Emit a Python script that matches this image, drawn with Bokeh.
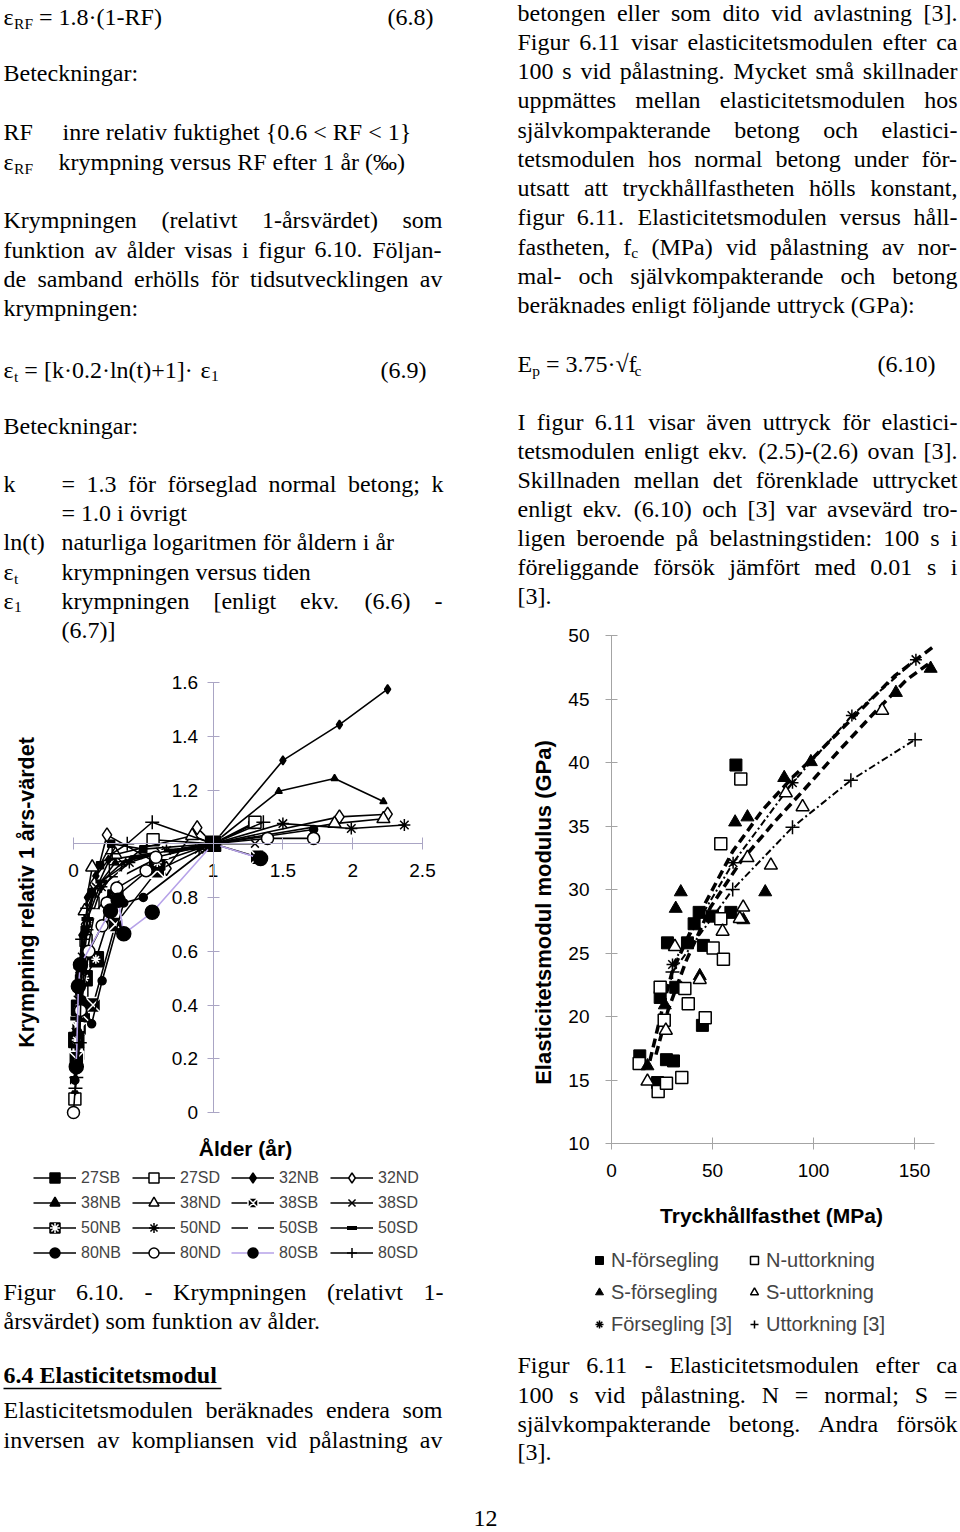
import math
from bokeh.plotting import figure
from bokeh.models import (Range1d, LinearAxis, FixedTicker, NumeralTickFormatter,
                          Legend, LegendItem)
from bokeh.core.properties import value
from bokeh.embed import file_html
from bokeh.resources import INLINE

# ============ Figur 6.10: krympning relativt 1-årsvärdet vs ålder (år) ============
age_27SB = [0.005, 0.02, 0.04, 0.08, 0.13, 0.19, 0.27, 0.50, 1.00, 1.28]
rel_27SB = [0.12, 0.30, 0.50, 0.68, 0.82, 0.92, 1.00, 0.98, 1.00, 1.07]
age_27SD = [0.01, 0.03, 0.06, 0.09, 0.14, 0.30, 0.57, 1.00, 1.30]
rel_27SD = [0.05, 0.22, 0.45, 0.64, 0.78, 0.90, 1.015, 1.00, 1.08]
age_32NB = [0.01, 0.03, 0.06, 0.10, 0.16, 0.25, 1.00, 1.50, 1.905, 2.25]
rel_32NB = [0.20, 0.45, 0.66, 0.80, 0.88, 0.94, 1.00, 1.31, 1.443, 1.575]
age_32ND = [0.02, 0.05, 0.09, 0.15, 0.24, 0.666, 0.886, 1.00, 1.905, 2.25]
rel_32ND = [0.28, 0.52, 0.70, 0.85, 1.033, 0.908, 1.06, 1.00, 1.10, 1.11]
age_38NB = [0.01, 0.025, 0.05, 0.09, 0.14, 0.30, 1.00, 1.47, 1.87, 2.22]
rel_38NB = [0.08, 0.25, 0.48, 0.68, 0.82, 0.93, 1.00, 1.195, 1.243, 1.157]
age_38ND = [0.02, 0.05, 0.08, 0.134, 0.30, 0.85, 1.00, 1.87, 2.22]
rel_38ND = [0.30, 0.55, 0.75, 0.913, 0.96, 1.03, 1.00, 1.075, 1.093]
age_38SB = [0.02, 0.04, 0.07, 0.14, 0.30, 0.60, 1.00, 1.32]
rel_38SB = [0.20, 0.31, 0.36, 0.40, 0.70, 0.90, 1.00, 0.95]
age_38SD = [0.015, 0.03, 0.06, 0.10, 0.16, 0.35, 0.62, 1.00, 1.30]
rel_38SD = [0.30, 0.42, 0.58, 0.72, 0.84, 0.93, 0.97, 1.00, 1.00]
age_50NB = [0.02, 0.04, 0.08, 0.16, 0.30, 0.60, 1.00]
rel_50NB = [0.27, 0.39, 0.50, 0.57, 0.80, 0.93, 1.00]
age_50ND = [0.03, 0.06, 0.10, 0.20, 0.40, 0.666, 0.90, 1.00, 1.50, 1.99, 2.37]
rel_50ND = [0.30, 0.52, 0.68, 0.84, 0.93, 0.975, 0.98, 1.00, 1.075, 1.057, 1.07]
age_50SB = [0.015, 0.04, 0.08, 0.15, 0.35, 0.65, 1.00]
rel_50SB = [0.10, 0.32, 0.55, 0.74, 0.88, 0.96, 1.00]
age_50SD = [0.02, 0.05, 0.10, 0.20, 0.45, 0.69, 1.00]
rel_50SD = [0.35, 0.55, 0.72, 0.86, 0.95, 0.975, 1.00]
age_80NB = [0.01, 0.03, 0.06, 0.13, 0.205, 0.36, 0.50, 1.00, 1.72]
rel_80NB = [0.12, 0.30, 0.42, 0.33, 0.49, 0.78, 0.80, 1.00, 1.053]
age_80ND = [0.00, 0.05, 0.11, 0.205, 0.24, 0.31, 0.52, 0.59, 1.00, 1.39, 1.72]
rel_80ND = [0.00, 0.38, 0.60, 0.695, 0.78, 0.835, 0.90, 0.95, 1.00, 1.02, 1.02]
age_80SB = [0.02, 0.035, 0.05, 0.265, 0.32, 0.36, 0.564, 1.00, 1.34]
rel_80SB = [0.17, 0.47, 0.55, 0.75, 0.79, 0.665, 0.745, 1.00, 0.945]
age_80SD = [0.014, 0.02, 0.045, 0.062, 0.098, 0.277, 0.385, 0.564, 1.00, 1.36]
rel_80SD = [0.09, 0.13, 0.26, 0.645, 0.76, 0.963, 1.00, 1.08, 1.00, 1.08]

series_610 = ["27SB", "27SD", "32NB", "32ND", "38NB", "38ND", "38SB", "38SD",
              "50NB", "50ND", "50SB", "50SD", "80NB", "80ND", "80SB", "80SD"]
x_ticks_610 = [0, 1, 1.5, 2, 2.5]
y_ticks_610 = [0, 0.2, 0.4, 0.6, 0.8, 1.2, 1.4, 1.6]

# ============ Figur 6.11: elasticitetsmodul (GPa) vs tryckhållfasthet (MPa) ============
fc_N_seal = [14.0, 22.8, 24.1, 27.7, 27.2, 30.7, 31.8, 37.6, 40.9, 43.4, 45.0, 45.5, 50.0, 59.1, 61.6]
E_N_seal = [16.9, 14.8, 21.5, 25.8, 16.6, 16.5, 22.3, 25.8, 27.3, 28.2, 19.3, 25.6, 27.9, 28.2, 39.8]
fc_N_dry = [13.7, 23.1, 27.2, 34.8, 24.1, 26.1, 36.3, 38.0, 46.4, 50.3, 55.4, 54.1, 54.1, 64.0]
E_N_dry = [16.3, 14.1, 14.75, 15.2, 22.3, 19.7, 22.2, 21.0, 19.9, 25.4, 24.5, 27.7, 33.6, 38.7]
fc_S_seal = [17.8, 26.4, 31.8, 34.3, 43.7, 65.3, 76.1, 61.2, 67.3, 85.5, 98.7, 140.8, 158.0]
E_S_seal = [16.1, 20.9, 28.5, 29.8, 23.2, 27.6, 29.8, 35.3, 35.7, 38.8, 40.05, 45.5, 47.4]
fc_S_dry = [17.8, 26.9, 31.4, 43.7, 55.0, 63.5, 65.2, 67.3, 78.9, 86.3, 94.6, 134.0]
E_S_dry = [14.9, 18.9, 25.5, 22.9, 26.7, 27.7, 28.6, 32.5, 31.9, 37.6, 36.5, 44.1]
fc_ref_seal = [30.2, 60.2, 89.6, 119.0, 150.7]
E_ref_seal = [24.1, 32.1, 38.4, 43.7, 48.1]
fc_ref_dry = [30.2, 60.0, 89.6, 118.5, 150.3]
E_ref_dry = [23.5, 30.0, 34.9, 38.6, 41.8]
fc_fit_a = [19, 25, 30, 40, 50, 60, 75, 90, 100, 120, 140, 160]
E_fit_a = [16.5, 20.5, 23.5, 27.0, 30.0, 33.0, 36.3, 38.9, 40.4, 43.6, 46.8, 49.2]
fc_fit_b = [22, 28, 37, 49, 64, 80, 95, 113, 130, 146, 158]
E_fit_b = [17.0, 20.5, 24.4, 28.6, 32.2, 35.2, 37.8, 41.0, 43.9, 46.5, 47.9]
labels_611 = ["N-försegling", "N-uttorkning", "S-försegling", "S-uttorkning",
              "Försegling [3]", "Uttorkning [3]"]
x_ticks_611 = [0, 50, 100, 150]
y_ticks_611 = [10, 15, 20, 25, 30, 35, 40, 45, 50]

# ============ page geometry (1 unit = 1 page pixel) ============
W, H = 960, 1532
PW, PH = float(W), float(H)

p = figure(width=W, height=H, x_range=Range1d(0, PW), y_range=Range1d(PH, 0),
           output_backend="svg", toolbar_location=None, x_axis_type=None, y_axis_type=None,
           min_border=0, min_border_left=0, min_border_right=0, min_border_top=0,
           min_border_bottom=0, outline_line_color=None,
           background_fill_color="white", border_fill_color="white")

# chart placement on the page
L_X0, L_XS = 73.0, 139.6
L_Y0, L_YS = 1112.0, 268.75
R_X0, R_XS = 611.0, 2.02
R_Y10, R_YS = 1143.0, 12.7
p.extra_x_ranges = {"lx": Range1d(-L_X0 / L_XS, (PW - L_X0) / L_XS),
                    "rx": Range1d(-R_X0 / R_XS, (PW - R_X0) / R_XS)}
p.extra_y_ranges = {"ly": Range1d((L_Y0 - PH) / L_YS, L_Y0 / L_YS),
                    "ry": Range1d(10 + (R_Y10 - PH) / R_YS, 10 + R_Y10 / R_YS)}


def mk_axis(xr, yr, fixed, bounds, ticks, color, standoff, fmt=None):
    ax = LinearAxis(x_range_name=xr, y_range_name=yr, fixed_location=fixed, bounds=bounds,
                    ticker=FixedTicker(ticks=ticks, minor_ticks=[]),
                    axis_line_color=color, axis_line_width=1,
                    major_tick_line_color=color, major_tick_line_width=1,
                    major_tick_in=6, major_tick_out=6, minor_tick_line_color=None,
                    major_label_standoff=standoff,
                    major_label_text_font="Liberation Sans",
                    major_label_text_font_size="19px",
                    major_label_text_color="black")
    if fmt:
        ax.formatter = NumeralTickFormatter(format=fmt)
    return ax


L_AX = "#aaa5c4"
R_AX = "#a4a4a4"
p.add_layout(mk_axis("lx", "ly", 1.0, (0, 2.5), x_ticks_610, L_AX, 14, "0.[0]"), "below")
p.add_layout(mk_axis("lx", "ly", 1.0, (0, 1.6), y_ticks_610, L_AX, 9, "0.[0]"), "left")
p.add_layout(mk_axis("rx", "ry", 10, (0, 160), x_ticks_611, R_AX, 14), "below")
p.add_layout(mk_axis("rx", "ry", 0, (10, 50), y_ticks_611, R_AX, 16), "left")

# ============ Figure 6.10 series ============
DATA_610 = {
    "27SB": (age_27SB, rel_27SB), "27SD": (age_27SD, rel_27SD),
    "32NB": (age_32NB, rel_32NB), "32ND": (age_32ND, rel_32ND),
    "38NB": (age_38NB, rel_38NB), "38ND": (age_38ND, rel_38ND),
    "38SB": (age_38SB, rel_38SB), "38SD": (age_38SD, rel_38SD),
    "50NB": (age_50NB, rel_50NB), "50ND": (age_50ND, rel_50ND),
    "50SB": (age_50SB, rel_50SB), "50SD": (age_50SD, rel_50SD),
    "80NB": (age_80NB, rel_80NB), "80ND": (age_80ND, rel_80ND),
    "80SB": (age_80SB, rel_80SB), "80SD": (age_80SD, rel_80SD),
}
STYLE_610 = {
    "27SB": dict(marker="square", size=7, fill_color="black", line_color="black"),
    "27SD": dict(marker="square", size=12, fill_color="white", line_color="black"),
    "32NB": dict(marker="diamond", size=9, fill_color="black", line_color="black"),
    "32ND": dict(marker="diamond", size=14, fill_color="white", line_color="black"),
    "38NB": dict(marker="triangle", size=7, fill_color="black", line_color="black"),
    "38ND": dict(marker="triangle", size=13, fill_color="white", line_color="black"),
    "38SB": dict(marker="square_x", size=15, fill_color="black", line_color="white"),
    "38SD": dict(marker="x", size=11, line_color="black"),
    "50NB": dict(marker="square", size=15, fill_color="black", line_color="black"),
    "50ND": dict(marker="asterisk", size=12, line_color="black"),
    "50SB": dict(marker="square", size=9, fill_color="white", line_color=None),
    "50SD": dict(marker="dash", size=12, line_color="black", line_width=4),
    "80NB": dict(marker="circle", size=8, fill_color="black", line_color="black"),
    "80ND": dict(marker="circle", size=12, fill_color="white", line_color="black"),
    "80SB": dict(marker="circle", size=14, fill_color="black", line_color="black"),
    "80SD": dict(marker="cross", size=14, line_color="black"),
}
LINE_COLOR_610 = {"80SB": "#b6a2e8"}

items_610 = []
for name in series_610:
    xs, ys = DATA_610[name]
    st = dict(STYLE_610[name])
    st.setdefault("line_width", 1.5)
    lr = p.line(x=xs, y=ys, x_range_name="lx", y_range_name="ly",
                line_color=LINE_COLOR_610.get(name, "black"), line_width=1.6)
    sr = p.scatter(x=xs, y=ys, x_range_name="lx", y_range_name="ly", **st)
    rends = [lr, sr]
    if name == "50NB":
        rends.append(p.scatter(x=xs, y=ys, x_range_name="lx", y_range_name="ly",
                               marker="asterisk", size=9, line_color="white", line_width=1.5))
    items_610.append(LegendItem(label=name, renderers=rends))

leg610 = Legend(items=items_610, orientation="horizontal", ncols=4,
                location=(33, PH - 1265),
                glyph_width=43, glyph_height=25, label_width=51, label_height=25,
                label_standoff=5, spacing=0, padding=0, margin=0,
                border_line_alpha=0, background_fill_alpha=0,
                label_text_font="Liberation Sans", label_text_font_size="16px")
p.add_layout(leg610)

# ============ Figure 6.11 series ============
p.line(x=fc_fit_a, y=E_fit_a, x_range_name="rx", y_range_name="ry",
       line_color="black", line_width=3.5, line_dash="9 5")
p.line(x=fc_fit_b, y=E_fit_b, x_range_name="rx", y_range_name="ry",
       line_color="black", line_width=3.5, line_dash="9 5")
p.line(x=fc_ref_seal, y=E_ref_seal, x_range_name="rx", y_range_name="ry",
       line_color="black", line_width=2, line_dash="7 3 2 3")
p.line(x=fc_ref_dry, y=E_ref_dry, x_range_name="rx", y_range_name="ry",
       line_color="black", line_width=2, line_dash="7 3 2 3")

DATA_611 = [(fc_N_seal, E_N_seal, dict(marker="square", size=12, fill_color="black", line_color="black")),
            (fc_N_dry, E_N_dry, dict(marker="square", size=12, fill_color="white", line_color="black", line_width=1.5)),
            (fc_S_seal, E_S_seal, dict(marker="triangle", size=13, fill_color="black", line_color="black")),
            (fc_S_dry, E_S_dry, dict(marker="triangle", size=13, fill_color="white", line_color="black", line_width=1.5)),
            (fc_ref_seal, E_ref_seal, dict(marker="asterisk", size=12, line_color="black", line_width=1.5)),
            (fc_ref_dry, E_ref_dry, dict(marker="cross", size=14, line_color="black", line_width=1.5))]
items_611 = []
for lab, (xs, ys, st) in zip(labels_611, DATA_611):
    r = p.scatter(x=xs, y=ys, x_range_name="rx", y_range_name="ry", **st)
    items_611.append(LegendItem(label=lab, renderers=[r]))

leg611 = Legend(items=items_611, orientation="horizontal", ncols=2,
                location=(589, PH - 1336),
                glyph_width=20, glyph_height=24, label_width=125, label_height=24,
                label_standoff=2, spacing=8, padding=0, margin=0,
                border_line_alpha=0, background_fill_alpha=0,
                label_text_font="Liberation Sans", label_text_font_size="20px")
p.add_layout(leg611)

# axis titles (sans bold)
SANS = "Liberation Sans"
p.text(x=[245], y=[1148], text=["Ålder (år)"], text_font=value(SANS),
       text_font_style="bold", text_font_size="21px", text_align="center",
       text_baseline="middle")
p.text(x=[26], y=[892], text=["Krympning relativ 1 års-värdet"], text_font=value(SANS),
       text_font_style="bold", text_font_size="21.5px", text_align="center",
       text_baseline="middle", angle=math.pi / 2)
p.text(x=[771], y=[1215], text=["Tryckhållfasthet (MPa)"], text_font=value(SANS),
       text_font_style="bold", text_font_size="21px", text_align="center",
       text_baseline="middle")
p.text(x=[543], y=[912], text=["Elasticitetsmodul modulus (GPa)"], text_font=value(SANS),
       text_font_style="bold", text_font_size="22px", text_align="center",
       text_baseline="middle", angle=math.pi / 2)

# ============ body text (Times metrics) ============
TNR = {}
for chars, w in [(" .,·", 250), (":;ijlt/", 278), ("()[]-frI", 333), ("sJ", 389),
                 ("aceåäéz?", 444), ("{}", 480), ("0123456789bdghknopquvxyöü*", 500),
                 ("FPS", 556), ("=+<>", 564), ("ELTZ", 611), ("BCR", 667),
                 ("ADGHKNOUVXYwÅÄÖ", 722), ("m", 778), ("M", 889), ("W", 944),
                 ("‰", 1000), ("ε", 440), ("√", 549)]:
    for ch in chars:
        TNR[ch] = w

SERIF = "Liberation Serif"
BASE = 24.0
SUB = 15.5
MID = 0.335  # baseline -> vertical middle, in em
runs = []


def tw(s, size):
    return sum(TNR.get(ch, 500) for ch in s) * size / 1000.0


def put(x, y, s, size=BASE, style="normal"):
    # y is the baseline; store the vertical middle
    lead = len(s) - len(s.lstrip(" "))
    x += tw(" " * lead, size)
    runs.append((x, y - MID * size, s.strip(" "), size, style))


def draw_parts(x, y, parts):
    for s, sub in parts:
        size = SUB if sub else BASE
        put(x, y + (3 if sub else 0), s, size)
        x += tw(s, size)
    return x


def word_parts(word):
    if "_" in word:
        a, b = word.split("_", 1)
        return [(a, False), (b, True)]
    return [(word, False)]


def justify(x0, x1, y, text):
    words = [word_parts(w) for w in text.split(" ")]
    widths = [sum(tw(s, SUB if sub else BASE) for s, sub in w) for w in words]
    gap = (x1 - x0 - sum(widths)) / max(1, len(words) - 1)
    x = x0
    for w, wd in zip(words, widths):
        draw_parts(x, y, w)
        x += wd + gap


# left column
draw_parts(3, 25, [("ε", False), ("RF", True), (" = 1.8·(1-RF)", False)])
put(387, 25, "(6.8)")
put(3, 81, "Beteckningar:")
put(3, 140, "RF")
put(62, 140, "inre relativ fuktighet {0.6 < RF < 1}")
draw_parts(3, 170, [("ε", False), ("RF", True)])
put(58, 170, "krympning versus RF efter 1 år (‰)")
justify(3, 442, 228, "Krympningen (relativt 1-årsvärdet) som")
justify(3, 441, 257.5, "funktion av ålder visas i figur 6.10. Följan-")
justify(3, 442, 287, "de samband erhölls för tidsutvecklingen av")
put(3, 316, "krympningen:")
draw_parts(3, 378, [("ε", False), ("t", True), (" = [k·0.2·ln(t)+1]·", False)])
draw_parts(200, 378, [("ε", False), ("1", True)])
put(380, 378, "(6.9)")
put(3, 434, "Beteckningar:")
put(3, 492, "k")
justify(61, 443, 492, "= 1.3 för förseglad normal betong; k")
put(61, 521, "= 1.0 i övrigt")
put(3, 550, "ln(t)")
put(61, 550, "naturliga logaritmen för åldern i år")
draw_parts(3, 580, [("ε", False), ("t", True)])
put(61, 580, "krympningen versus tiden")
draw_parts(3, 609, [("ε", False), ("1", True)])
justify(61, 442, 609, "krympningen [enligt ekv. (6.6) -")
put(61, 638, "(6.7)]")
justify(3, 443, 1300, "Figur 6.10. - Krympningen (relativt 1-")
put(3, 1329, "årsvärdet) som funktion av ålder.")
put(3, 1383, "6.4 Elasticitetsmodul", style="bold")
justify(3, 442, 1418, "Elasticitetsmodulen beräknades endera som")
justify(3, 442, 1448, "inversen av kompliansen vid pålastning av")
put(473, 1526, "12")

# right column
RJ = [(20.5, "betongen eller som dito vid avlastning [3]."),
      (50, "Figur 6.11 visar elasticitetsmodulen efter ca"),
      (79, "100 s vid pålastning. Mycket små skillnader"),
      (108, "uppmättes mellan elasticitetsmodulen hos"),
      (137.5, "självkompakterande betong och elastici-"),
      (167, "tetsmodulen hos normal betong under för-"),
      (196, "utsatt att tryckhållfastheten hölls konstant,"),
      (225, "figur 6.11. Elasticitetsmodulen versus håll-"),
      (254.5, "fastheten, f_c (MPa) vid pålastning av nor-"),
      (284, "mal- och självkompakterande och betong"),
      (430, "I figur 6.11 visar även uttryck för elastici-"),
      (459, "tetsmodulen enligt ekv. (2.5)-(2.6) ovan [3]."),
      (488, "Skillnaden mellan det förenklade uttrycket"),
      (517, "enligt ekv. (6.10) och [3] var avsevärd tro-"),
      (546, "ligen beroende på belastningstiden: 100 s i"),
      (575, "föreliggande försök jämfört med 0.01 s i"),
      (1373, "Figur 6.11 - Elasticitetsmodulen efter ca"),
      (1403, "100 s vid pålastning. N = normal; S ="),
      (1431.5, "självkompakterande betong. Andra försök")]
for y, t in RJ:
    justify(517, 957, y, t)
put(517, 313, "beräknades enligt följande uttryck (GPa):")
draw_parts(517, 372, [("E", False), ("p", True), (" = 3.75·√f", False), ("c", True)])
put(877, 372, "(6.10)")
put(517, 604, "[3].")
put(517, 1460, "[3].")

groups = {}
for x, y, s, size, style in runs:
    groups.setdefault((size, style), []).append((x, y, s))
for (size, style), its in groups.items():
    p.text(x=[i[0] for i in its], y=[i[1] for i in its], text=[i[2] for i in its],
           text_font=value(SERIF), text_font_size=value(f"{size:.2f}px"),
           text_font_style=style, text_align="left", text_baseline="middle",
           text_color="black")

# underline of the bold heading
p.segment(x0=[3], y0=[1388], x1=[3 + 218], y1=[1388], line_color="black", line_width=1.5)

open("out.html", "w").write(file_html(p, INLINE))
